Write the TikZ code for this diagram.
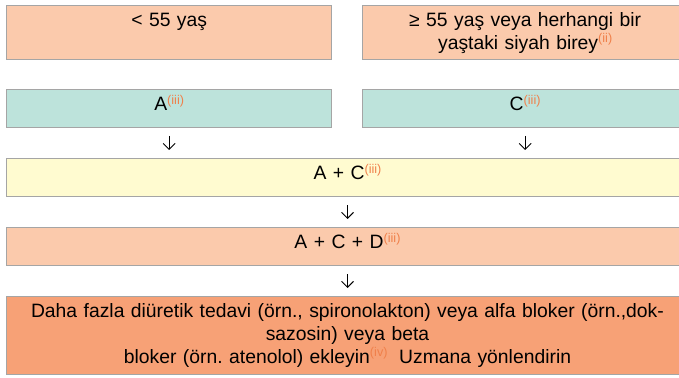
\documentclass[tikz,border=0pt]{standalone}
\usepackage{fontspec}
\setmainfont{Liberation Sans}
\usetikzlibrary{arrows.meta, positioning}
\definecolor{peach}{HTML}{FBCAAC}
\definecolor{mint}{HTML}{BDE3DB}
\definecolor{cream}{HTML}{FFFBD0}
\definecolor{salmon}{HTML}{F7A176}
\definecolor{edgegrey}{HTML}{A5A5A5}
\definecolor{notecolor}{HTML}{F0804A}
\frenchspacing
\newcommand{\fnote}[1]{\raisebox{5pt}{\fontsize{9.5}{10}\selectfont\color{notecolor}(#1)}}
\tikzset{
    stagebox/.style={draw=edgegrey, line width=.75pt, anchor=north west,
        inner sep=0pt, align=center, text height=16pt,
        font=\fontsize{14.5}{17}\selectfont},
    halfbox/.style={stagebox, text width=244pt},
    rowbox/.style={stagebox, text width=511.5pt},
    downarrow/.style={-{Straight Barb[length=4.5pt, width=9pt]}, line width=.7pt,
        shorten <=6pt, shorten >=6pt},
}

\begin{document}
\begin{tikzpicture}[x=.75pt, y=-.75pt]
    \useasboundingbox (0, 0) rectangle (679, 378);
    \node[halfbox, text depth=24.5pt, fill=peach] (young) at (6, 5)
        {< 55 yaş}; % Under 55
    \node[halfbox, text depth=24.5pt, fill=peach] (older) at (362, 5)
        {≥ 55 yaş veya herhangi bir\\yaştaki siyah birey\fnote{ii}}; % Over 55
    \node[halfbox, text depth=12.5pt, fill=mint] (drugA) at (6, 89)
        {A\fnote{iii}}; % Left step
    \node[halfbox, text depth=12.5pt, fill=mint] (drugC) at (362, 89)
        {C\fnote{iii}}; % Right step
    \node[rowbox, text depth=12.5pt, fill=cream] (dualAC) at (6, 158)
        {A + C\fnote{iii}}; % Second step
    \node[rowbox, text depth=12.5pt, fill=peach] (tripleACD) at (6, 227)
        {A + C + D\fnote{iii}}; % Third step
    \node[rowbox, text depth=42.5pt, fill=salmon] (extra) at (6, 296)
        {Daha fazla diüretik tedavi (örn., spironolakton) veya alfa bloker (örn.,dok-\\
        sazosin) veya beta\\
        bloker (örn. atenolol) ekleyin\fnote{iv}\hspace{.6em}Uzmana yönlendirin}; % Last step
    \draw[downarrow] (drugA.south) -- (drugA.south |- dualAC.north); % Left arrow
    \draw[downarrow] (drugC.south) -- (drugC.south |- dualAC.north); % Right arrow
    \draw[downarrow] (dualAC.south) -- (tripleACD.north);
    \draw[downarrow] (tripleACD.south) -- (extra.north);
\end{tikzpicture}
\end{document}
